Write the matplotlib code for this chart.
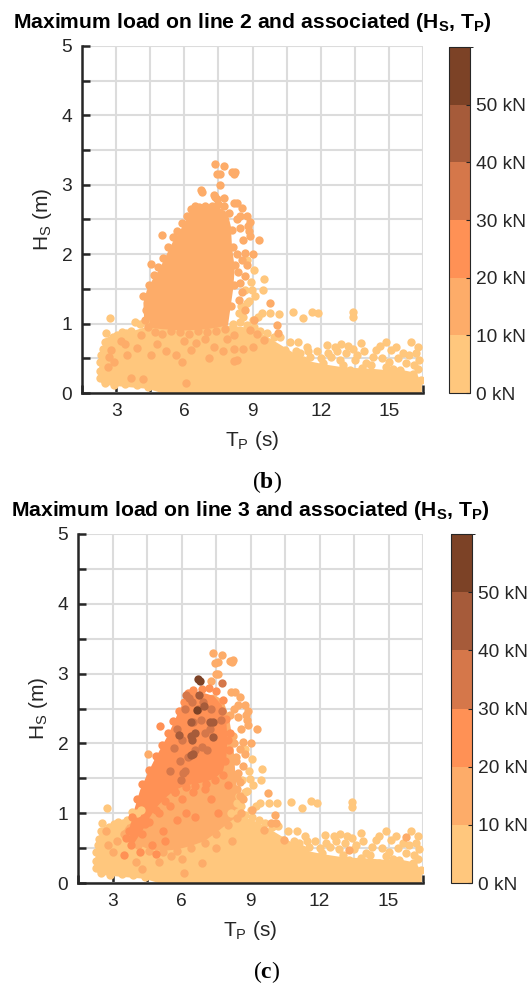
import matplotlib.pyplot as plt
import numpy as np
from matplotlib.colors import ListedColormap, BoundaryNorm
import matplotlib.cm as cm

plt.rcParams['font.family'] = ['Liberation Sans', 'DejaVu Sans']
plt.rcParams['mathtext.fontset'] = 'custom'
plt.rcParams['mathtext.rm'] = 'Liberation Sans'
plt.rcParams['mathtext.sf'] = 'Liberation Sans:bold'
plt.rcParams['mathtext.bf'] = 'Liberation Serif:bold'

# ---- load classes of the colour bar ----
load_bounds = [0, 10, 20, 30, 40, 50, 60]
load_ticks = [0, 10, 20, 30, 40, 50]
load_ticklabels = ['0 kN', '10 kN', '20 kN', '30 kN', '40 kN', '50 kN']
class_colors = ['#FFC77D', '#FDAC69', '#FF9155', '#D5774A', '#A65B3A', '#7C4226']

# ---- sea states (Tp [s], Hs [m]) ----
# outline of the dense low-Hs cloud (same sea states on both panels)
base_env = [(2.25, 0.2), (2.25, 0.35), (2.35, 0.58), (2.5, 0.78), (2.8, 0.83),
            (3.3, 0.84), (3.8, 0.9), (4.3, 0.95), (5.0, 0.95), (6.0, 0.95),
            (7.0, 0.95), (8.0, 0.97), (8.6, 0.95), (9.1, 0.9), (9.6, 0.82),
            (10.1, 0.72), (10.6, 0.62), (11.1, 0.52), (11.6, 0.45), (12.2, 0.41),
            (12.8, 0.38), (13.5, 0.36), (14.2, 0.35), (14.9, 0.33), (15.6, 0.33),
            (16.2, 0.29), (16.45, 0.15), (16.45, 0.0), (5.0, 0.0), (4.4, 0.06),
            (3.0, 0.1), (2.4, 0.12)]

base_edge = [(2.3, 0.22), (2.27, 0.32), (2.3, 0.44), (2.35, 0.55), (2.42, 0.63),
             (2.5, 0.74), (2.56, 0.86), (2.75, 1.08), (2.85, 0.8), (3.05, 0.84),
             (3.25, 0.88), (3.45, 0.86), (3.65, 0.9), (3.85, 1.02), (4.05, 1.0),
             (4.25, 1.04), (2.5, 0.14), (2.9, 0.12), (3.4, 0.13), (3.9, 0.11),
             (4.4, 0.08), (8.15, 1.0), (8.45, 1.02), (8.75, 0.98), (9.05, 0.95),
             (9.35, 0.9), (9.65, 0.86), (9.95, 0.8), (10.21, 0.81), (10.43, 0.62),
             (10.65, 0.74), (10.9, 0.6), (11.24, 0.48), (11.02, 0.74)]

tail_pts = [(11.38, 0.67), (11.09, 0.57), (11.53, 0.52), (11.82, 0.6), (12.26, 0.69),
            (12.63, 0.67), (12.44, 0.52), (12.11, 0.43), (12.84, 0.48), (13.13, 0.57),
            (13.42, 0.64), (13.79, 0.72), (13.5, 0.48), (14.01, 0.43), (14.3, 0.52),
            (14.45, 0.62), (14.89, 0.74), (15.1, 0.62), (15.32, 0.67), (15.61, 0.57),
            (15.98, 0.74), (16.27, 0.67), (16.34, 0.48), (15.76, 0.43), (15.47, 0.33),
            (14.89, 0.38), (14.6, 0.28), (16.05, 0.28), (14.01, 0.28), (13.28, 0.33),
            (12.84, 0.28), (14.89, 0.19), (15.76, 0.19), (16.4, 0.19), (12.55, 0.26),
            (11.7, 0.35), (12.0, 0.5), (13.0, 0.4), (13.8, 0.36), (14.2, 0.4),
            (15.0, 0.45), (15.4, 0.5), (16.1, 0.4), (16.2, 0.58), (13.2, 0.68),
            (12.3, 0.58), (11.45, 0.6), (10.8, 0.45), (11.2, 0.38), (12.7, 0.6),
            (13.6, 0.55), (14.7, 0.5), (15.2, 0.35), (15.9, 0.55), (16.3, 0.35),
            (13.9, 0.6), (14.6, 0.68), (12.9, 0.7)]

flank_light = [(9.06, 1.77), (9.5, 1.64), (9.46, 1.48), (8.77, 1.3), (8.98, 1.49),
               (9.13, 1.4), (8.84, 1.32), (9.43, 1.15), (9.79, 1.15), (10.15, 1.14),
               (8.65, 1.48), (8.76, 1.92), (8.95, 1.6), (8.6, 1.1), (9.0, 1.05),
               (9.25, 1.1), (8.4, 1.15), (8.5, 1.25)]

outliers = [(10.78, 1.16), (11.22, 1.08), (11.61, 1.17), (11.9, 1.15),
            (13.41, 1.16), (13.41, 1.09)]

tip_pts = [(7.37, 3.30), (7.74, 3.27), (7.45, 3.15), (7.59, 3.16), (8.1, 3.18),
           (8.25, 3.19), (8.18, 3.16), (7.57, 2.99)]

flank_mid = [(8.17, 2.74), (8.32, 2.74), (8.54, 2.67), (8.76, 2.55), (8.9, 2.47),
             (8.83, 2.33), (8.91, 2.26), (9.27, 2.21), (8.47, 2.38), (8.69, 2.02),
             (8.54, 1.92), (8.69, 1.68), (8.47, 1.58), (8.4, 1.34), (8.69, 1.2),
             (9.05, 1.05), (9.76, 1.29), (10.08, 0.98), (10.1, 0.86), (8.3, 2.0),
             (8.35, 1.75), (8.3, 2.5), (8.6, 2.2), (8.45, 2.55), (8.75, 1.85),
             (8.55, 1.45), (9.0, 2.0), (8.8, 2.4)]

# line 2: 10-20 kN blob
l2_blob_env = [(4.25, 0.95), (4.2, 1.3), (4.35, 1.48), (4.6, 1.63), (4.9, 1.78),
               (5.2, 1.98), (5.5, 2.18), (5.8, 2.33), (6.05, 2.48), (6.25, 2.6),
               (6.5, 2.66), (7.0, 2.66), (7.5, 2.68), (7.9, 2.6), (8.05, 2.4),
               (8.1, 2.1), (8.22, 1.8), (8.15, 1.5), (8.02, 1.2), (7.92, 0.97),
               (7.0, 0.92), (6.0, 0.9), (5.0, 0.92)]

l2_blob_edge = [(4.2, 1.4), (4.3, 1.2), (4.25, 1.05), (4.45, 1.55), (4.65, 1.7),
                (4.85, 1.82), (5.05, 1.95), (5.3, 2.1), (5.5, 2.25), (5.7, 2.33),
                (5.9, 2.45), (6.1, 2.55), (6.3, 2.65), (6.45, 2.7), (6.65, 2.68),
                (6.9, 2.7), (7.2, 2.7), (7.5, 2.72), (7.75, 2.7), (7.95, 2.6),
                (8.1, 2.35), (8.15, 2.1), (8.25, 1.85), (8.2, 1.55), (8.05, 1.25),
                (4.4, 0.95), (4.7, 0.88), (5.0, 0.85), (5.4, 0.9), (5.8, 0.88),
                (6.2, 0.85), (6.6, 0.9), (7.0, 0.88), (7.4, 0.9), (7.8, 0.92),
                (5.04, 2.27), (4.53, 1.86), (6.72, 2.92), (6.79, 2.9), (7.37, 2.82),
                (7.45, 2.79), (7.74, 2.81), (7.3, 2.86)]

l2_mid_sprinkle = [(2.64, 0.38), (2.67, 0.52), (2.78, 0.62), (3.66, 0.21), (4.17, 0.2),
                   (6.07, 0.14), (4.53, 0.55), (5.63, 0.55), (6.3, 0.62), (6.5, 0.72),
                   (7.3, 0.67), (7.7, 0.6), (8.2, 0.63), (8.2, 0.46), (8.6, 0.64),
                   (9.0, 0.67), (4.1, 0.84), (3.4, 0.7), (3.9, 0.65), (4.8, 0.7),
                   (5.2, 0.6), (6.0, 0.75), (6.9, 0.78), (7.9, 0.78), (8.18, 0.84),
                   (8.91, 0.91), (9.5, 0.76), (8.33, 0.48), (9.2, 0.85), (3.2, 0.75),
                   (2.9, 0.45), (3.5, 0.55), (5.9, 0.45), (7.1, 0.5)]

# line 3: 10-20 kN and 20-30 kN regions
l3_mid_env = [(3.5, 0.75), (3.9, 1.0), (4.3, 1.2), (4.8, 1.45), (5.3, 1.7),
              (5.8, 2.0), (6.2, 2.3), (6.6, 2.55), (7.0, 2.68), (7.4, 2.7),
              (7.8, 2.62), (8.05, 2.4), (8.2, 2.1), (8.3, 1.8), (8.35, 1.5),
              (8.5, 1.2), (8.6, 1.02), (8.4, 0.95), (8.0, 0.85), (7.5, 0.72),
              (7.0, 0.6), (6.4, 0.53), (5.8, 0.48), (5.2, 0.46), (4.6, 0.48),
              (4.1, 0.55), (3.7, 0.6)]

l3_orange_env = [(3.6, 0.6), (3.9, 1.0), (4.2, 1.33), (4.5, 1.55), (4.8, 1.75),
                 (5.1, 1.93), (5.35, 2.08), (5.6, 2.25), (5.8, 2.4), (6.0, 2.53),
                 (6.25, 2.68), (6.6, 2.72), (7.0, 2.72), (7.4, 2.68), (7.75, 2.55),
                 (7.95, 2.3), (8.0, 2.05), (7.95, 1.8), (7.8, 1.6), (7.45, 1.5),
                 (7.05, 1.45), (6.6, 1.42), (6.2, 1.4), (5.7, 1.33), (5.3, 1.22),
                 (4.9, 1.08), (4.6, 0.93), (4.3, 0.75), (3.9, 0.55)]

l3_mid_sprinkle = [(5.53, 0.38), (6.91, 0.28), (15.74, 0.66), (13.28, 0.47),
                   (10.46, 0.62), (9.9, 0.86), (9.6, 0.76), (3.2, 0.6), (3.0, 0.45),
                   (2.8, 0.55), (4.0, 0.3), (5.0, 0.3), (6.0, 0.35), (7.5, 0.5),
                   (8.2, 0.6), (4.3, 0.2), (6.1, 0.14), (3.5, 0.7), (2.7, 0.75),
                   (3.6, 0.72), (4.1, 0.55), (4.6, 0.46), (5.2, 0.44), (5.8, 0.46),
                   (6.4, 0.5), (7.0, 0.58), (7.5, 0.7), (8.0, 0.83), (8.4, 0.93),
                   (8.6, 1.0), (8.55, 1.25), (8.4, 1.5), (8.35, 1.8), (8.25, 2.1),
                   (8.1, 2.4), (4.53, 1.85), (7.49, 3.0), (7.3, 2.9)]

l3_orange_pts = [(6.3, 2.72), (6.5, 2.76), (6.9, 2.78), (7.2, 2.8), (7.5, 2.75),
                 (7.8, 2.62), (6.1, 2.6), (5.9, 2.47), (5.65, 2.32), (5.4, 2.15),
                 (5.15, 1.98), (4.9, 1.82), (4.6, 1.62), (4.3, 1.42), (4.05, 1.2),
                 (3.85, 0.95), (5.05, 2.25), (3.7, 0.75), (3.6, 0.65), (7.95, 2.35),
                 (8.0, 2.05), (7.9, 1.75), (5.0, 1.0), (5.5, 1.1), (6.0, 1.2),
                 (5.2, 0.75), (4.7, 0.55), (4.2, 0.45), (6.5, 1.3), (7.0, 1.35),
                 (5.8, 0.9), (4.4, 0.85), (3.8, 0.55), (6.2, 1.0), (7.3, 1.2),
                 (8.0, 1.4), (8.05, 1.9), (8.1, 2.15), (5.3, 0.6), (6.6, 0.95),
                 (3.5, 0.4), (4.9, 0.42), (5.7, 1.3), (7.6, 1.0), (7.45, 1.47),
                 (7.05, 1.42), (6.6, 1.39), (6.2, 1.37), (5.7, 1.3), (5.3, 1.18),
                 (4.9, 1.04), (4.6, 0.88), (4.3, 0.7), (7.8, 1.55)]

l3_c30_pts = [(6.31, 2.65), (6.84, 2.33), (6.9, 1.95), (5.69, 1.93), (6.05, 1.57),
              (6.15, 1.6), (5.99, 1.48), (7.78, 2.46), (7.73, 2.33), (7.26, 2.2),
              (6.44, 2.6), (6.14, 2.49), (7.78, 2.86), (6.2, 2.7), (6.5, 2.3),
              (7.0, 2.15), (6.0, 2.05), (5.8, 2.2), (6.6, 1.9), (7.1, 1.9),
              (6.3, 1.8), (5.95, 1.75), (7.3, 2.5), (6.95, 2.6), (5.5, 1.6),
              (6.7, 2.5)]

l3_c40_pts = [(6.74, 2.7), (6.99, 2.53), (6.41, 2.31), (7.35, 2.31), (6.6, 2.15),
              (5.9, 2.12), (6.46, 2.05), (7.38, 2.09), (6.42, 1.84), (6.48, 1.85),
              (7.23, 2.31), (6.42, 2.1)]

l3_c50_pts = [(6.72, 2.92), (6.79, 2.9), (6.67, 2.48)]

# what goes on each panel: (data, load class index)
panel_b_regions = [(base_env, 0), (l2_blob_env, 1)]
panel_b_points = [(base_edge, 0), (tail_pts, 0), (flank_light, 0), (outliers, 0),
                  (l2_blob_edge, 1), (l2_mid_sprinkle, 1), (tip_pts, 1), (flank_mid, 1)]

panel_c_regions = [(base_env, 0), (l3_mid_env, 1), (l3_orange_env, 2)]
panel_c_points = [(base_edge, 0), (tail_pts, 0), (flank_light, 0), (outliers, 0),
                  (l3_mid_sprinkle, 1), (tip_pts, 1), (flank_mid, 1),
                  (l3_orange_pts, 2), (l3_c30_pts, 3), (l3_c40_pts, 4), (l3_c50_pts, 5)]

cmap = ListedColormap(class_colors)
norm = BoundaryNorm(load_bounds, cmap.N)
txt = '#262626'

W, H = 528, 988
fig = plt.figure(figsize=(W / 100, H / 100), dpi=100)


def fx(px):
    return px / W


def fy(py):
    return 1 - py / H


def draw_panel(box, cbox, regions, points, line_no, cap, ylab_x):
    left, top, right, bottom = box
    ax = fig.add_axes([fx(left), fy(bottom), fx(right - left), (bottom - top) / H])
    ax.set_axisbelow(True)
    for env, k in regions:
        e = np.array(env)
        ax.fill(e[:, 0], e[:, 1], color=class_colors[k], lw=0, zorder=1)
    for pts, k in points:
        p = np.array(pts)
        ax.scatter(p[:, 0], p[:, 1], s=36, color=class_colors[k], linewidths=0, zorder=2)
    ax.set_xlim(1.5, 16.5)
    ax.set_ylim(0, 5)
    xt = np.arange(1.5, 16.6, 1.5)
    ax.set_xticks(xt)
    ax.set_xticklabels(['%d' % v if v % 3 == 0 else '' for v in xt])
    yt = np.arange(0, 5.01, 0.5)
    ax.set_yticks(yt)
    ax.set_yticklabels(['%d' % v if v % 1 == 0 else '' for v in yt])
    ax.grid(True, color='#DCDCDC', lw=1.5)
    for s in ['top', 'right']:
        ax.spines[s].set_visible(False)
    for s in ['left', 'bottom']:
        ax.spines[s].set_linewidth(1.8)
        ax.spines[s].set_color(txt)
        ax.spines[s].set_zorder(3)
    ax.tick_params(direction='in', length=5.5, width=1.8, colors=txt, labelsize=13.8)
    ax.tick_params(axis='x', pad=7)
    ax.tick_params(axis='y', pad=7)

    cl, ct, cr, cb = cbox
    cax = fig.add_axes([fx(cl), fy(cb), fx(cr - cl), (cb - ct) / H])
    sm = cm.ScalarMappable(cmap=cmap, norm=norm)
    cbar = fig.colorbar(sm, cax=cax, boundaries=load_bounds, ticks=load_ticks)
    cbar.set_ticklabels(load_ticklabels)
    cbar.outline.set_linewidth(0.8)
    cbar.outline.set_edgecolor(txt)
    cax.tick_params(direction='in', length=3, width=0.8, colors=txt,
                    labelsize=13.8, pad=4.5)

    xc = fx((left + right) / 2)
    fig.text(xc, fy(top - 18), 'Maximum load on line %d and associated '
             r'(H$_\mathsf{S}$, T$_\mathsf{P}$)' % line_no,
             ha='center', va='baseline', fontsize=15.2, fontweight='bold', color='black')
    fig.text(xc, fy(bottom + 53), r'T$_\mathrm{P}$ (s)', ha='center', va='baseline',
             fontsize=15, color=txt)
    fig.text(fx(ylab_x), fy((top + bottom) / 2), r'H$_\mathrm{S}$ (m)', rotation=90,
             ha='center', va='center', fontsize=15, color=txt)
    fig.text(fx(267), fy(bottom + 95), r'($\mathbf{%s}$)' % cap, ha='center',
             va='baseline', fontsize=17, family='Liberation Serif', color='black')
    return ax


draw_panel((82, 46, 423, 393), (449, 47, 470, 393), panel_b_regions, panel_b_points,
           2, 'b', 42)
draw_panel((78, 534, 423, 883), (451, 534, 472, 883), panel_c_regions, panel_c_points,
           3, 'c', 38)

fig.savefig('out.png', dpi=100)
